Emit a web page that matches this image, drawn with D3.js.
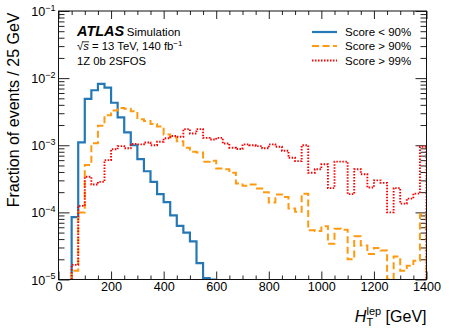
<!DOCTYPE html>
<html>
<head>
<meta charset="utf-8">
<script src="https://d3js.org/d3.v7.min.js"></script>
<style>
  body { margin: 0; background: #fff; }
  text { font-family: "Liberation Sans", Arial, Helvetica, sans-serif; fill: #000; }
</style>
</head>
<body>
<div id="chart"></div>
<script>
    // histogram bins: 25 GeV wide, first bin starts at 50 GeV
    var binStart = 50, binWidth = 25;

    // Score < 90%  (50 .. 600 GeV)
    var scoreBelow90 = [8.5e-5, 1.1e-3, 4.9e-3, 6.6e-3, 8.2e-3, 7.2e-3, 4.3e-3, 2.6e-3, 1.55e-3, 1.0e-3,
        6.2e-4, 4.1e-4, 2.85e-4, 1.87e-4, 1.42e-4, 9.0e-5, 6.3e-5, 5.0e-5, 3.7e-5, 1.75e-5,
        1.05e-5, 1.0e-5];

    // Score > 90%  (50 .. 1400 GeV)
    var scoreAbove90 = [1.35e-5, 1.0e-4, 5.1e-4, 1.07e-3, 1.95e-3, 2.8e-3, 3.3e-3, 3.6e-3, 3.5e-3, 3.2e-3,
        2.45e-3, 2.3e-3, 2.07e-3, 1.9e-3, 1.45e-3, 1.3e-3, 1.15e-3, 9.2e-4, 8.0e-4, 7.8e-4,
        5.7e-4, 5.9e-4, 4.5e-4, 4.4e-4, 3.9e-4, 2.7e-4, 2.5e-4, 2.6e-4, 2.26e-4, 2.0e-4,
        1.4e-4, 1.85e-4, 1.7e-4, 1.14e-4, 1.02e-4, 1.9e-4, 5.4e-5, 5.3e-5, 6.2e-5, 3.4e-5,
        5.7e-5, 5.5e-5, 2.0e-5, 4.4e-5, 3.2e-5, 2.4e-5, 2.95e-5, 2.7e-5, 5e-6, 2.2e-5,
        1.35e-5, 1.6e-5, 1.9e-5, 9.4e-5];

    // Score > 99%  (50 .. 1400 GeV)
    var scoreAbove99 = [1.65e-5, 1.25e-4, 3.4e-4, 2.6e-4, 2.85e-4, 6.0e-4, 8.7e-4, 9.7e-4, 9.0e-4, 1.05e-3,
        1.03e-3, 1.1e-3, 1.0e-3, 1.13e-3, 1.27e-3, 1.37e-3, 1.34e-3, 1.74e-3, 1.5e-3, 1.74e-3,
        1.29e-3, 1.22e-3, 1.29e-3, 1.06e-3, 9.2e-4, 8.8e-4, 1.03e-3, 1.0e-3, 9.7e-4, 9.0e-4,
        1.03e-3, 9.5e-4, 8.3e-4, 6.5e-4, 5.8e-4, 1.0e-3, 3.9e-4, 4.4e-4, 5.2e-4, 2.3e-4,
        5.7e-4, 5.7e-4, 1.87e-4, 4.4e-4, 3.7e-4, 2.35e-4, 3.0e-4, 2.75e-4, 1.0e-4, 2.3e-4,
        1.35e-4, 1.6e-4, 1.9e-4, 9.5e-4];

    var xTicks = [0, 200, 400, 600, 800, 1000, 1200, 1400];
    var yExponents = [-1, -2, -3, -4, -5];
    var legendLabels = ["Score < 90%", "Score > 90%", "Score > 99%"];

    var width = 449, height = 331;
    var pLeft = 58.5, pRight = 426.5, pTop = 11, pBottom = 279.5;

    var x = d3.scaleLinear().domain([0, 1400]).range([pLeft, pRight]);
    var y = d3.scaleLog().domain([1e-5, 1e-1]).range([pBottom, pTop]).clamp(true);

    var svg = d3.select("#chart").append("svg")
        .attr("width", width)
        .attr("height", height);

    svg.append("clipPath").attr("id", "plotclip")
        .append("rect")
        .attr("x", pLeft).attr("y", pTop)
        .attr("width", pRight - pLeft).attr("height", pBottom - pTop);

    // minor tick values
    var xMinor = d3.range(0, 1401, 50).filter(function (d) { return d % 200 !== 0; });
    var yMinor = [];
    yExponents.slice(1).forEach(function (e) {
        for (var k = 2; k <= 9; k++) yMinor.push(k * Math.pow(10, e));
    });
    var yMajor = yExponents.map(function (e) { return Math.pow(10, e); });

    function tickAxis(axis, tr) {
        var g = svg.append("g")
            .attr("transform", tr)
            .style("color", "#222")
            .call(axis);
        g.select(".domain").remove();
        g.selectAll("line").attr("stroke-width", 1);
        return g;
    }

    // ticks on all four sides, pointing inwards
    var gx = tickAxis(d3.axisBottom(x).tickValues(xTicks).tickSize(-8).tickSizeOuter(0).tickPadding(3)
        .tickFormat(d3.format("d")), "translate(0," + pBottom + ")");
    gx.selectAll("text").attr("font-size", 12.6).attr("font-family", "Liberation Sans, Arial, sans-serif").style("fill", "#000");
    tickAxis(d3.axisBottom(x).tickValues(xMinor).tickSize(-4).tickSizeOuter(0).tickFormat(""), "translate(0," + pBottom + ")");
    tickAxis(d3.axisTop(x).tickValues(xTicks).tickSize(-8).tickSizeOuter(0).tickFormat(""), "translate(0," + pTop + ")");
    tickAxis(d3.axisTop(x).tickValues(xMinor).tickSize(-4).tickSizeOuter(0).tickFormat(""), "translate(0," + pTop + ")");
    tickAxis(d3.axisLeft(y).tickValues(yMajor).tickSize(-11).tickSizeOuter(0).tickFormat(""), "translate(" + pLeft + ",0)");
    tickAxis(d3.axisLeft(y).tickValues(yMinor).tickSize(-6).tickSizeOuter(0).tickFormat(""), "translate(" + pLeft + ",0)");
    tickAxis(d3.axisRight(y).tickValues(yMajor).tickSize(-11).tickSizeOuter(0).tickFormat(""), "translate(" + pRight + ",0)");
    tickAxis(d3.axisRight(y).tickValues(yMinor).tickSize(-6).tickSizeOuter(0).tickFormat(""), "translate(" + pRight + ",0)");

    // y tick labels 10^n
    var ylab = svg.append("g").selectAll("text")
        .data(yExponents)
        .enter().append("text")
        .attr("x", 55.5)
        .attr("y", function (e) { return y(Math.pow(10, e)) + 5; })
        .attr("text-anchor", "end")
        .attr("font-size", 12.6);
    ylab.append("tspan").text("10");
    ylab.append("tspan")
        .attr("font-size", 9)
        .attr("dy", -5.5)
        .text(function (e) { return "\u2212" + Math.abs(e); });

    // histograms as steps
    function stepPoints(vals) {
        var pts = [{ e: binStart, v: 1e-9 }];
        vals.forEach(function (v, i) { pts.push({ e: binStart + i * binWidth, v: v }); });
        var end = binStart + vals.length * binWidth;
        pts.push({ e: end, v: vals[vals.length - 1] });
        pts.push({ e: end, v: 1e-9 });
        return pts;
    }
    var line = d3.line()
        .x(function (d) { return x(d.e); })
        .y(function (d) { return y(d.v); })
        .curve(d3.curveStepAfter);

    var series = [
        { vals: scoreBelow90, color: "#2378b5", w: 2.2, dash: null },
        { vals: scoreAbove90, color: "#ff9a10", w: 2, dash: "7,3.5" },
        { vals: scoreAbove99, color: "#ff0000", w: 1.9, dash: "1.5,1.5" }
    ];

    var plot = svg.append("g").attr("clip-path", "url(#plotclip)");
    plot.selectAll("path.hist")
        .data(series)
        .enter().append("path")
        .attr("class", "hist")
        .attr("d", function (s) { return line(stepPoints(s.vals)); })
        .attr("fill", "none")
        .attr("stroke", function (s) { return s.color; })
        .attr("stroke-width", function (s) { return s.w; })
        .attr("stroke-dasharray", function (s) { return s.dash; });

    // frame
    svg.append("rect")
        .attr("x", pLeft).attr("y", pTop)
        .attr("width", pRight - pLeft).attr("height", pBottom - pTop)
        .attr("fill", "none")
        .attr("stroke", "#111")
        .attr("stroke-width", 1);

    // legend
    var leg = svg.append("g").selectAll("g")
        .data(series)
        .enter().append("g")
        .attr("transform", function (s, i) { return "translate(0," + [32, 46, 60.5][i] + ")"; });
    leg.append("line")
        .attr("x1", 312).attr("x2", 337)
        .attr("stroke", function (s) { return s.color; })
        .attr("stroke-width", function (s) { return s.w; })
        .attr("stroke-dasharray", function (s) { return s.dash; });
    leg.append("text")
        .attr("x", 345).attr("y", 4.2)
        .attr("font-size", 11.5)
        .text(function (s, i) { return legendLabels[i]; });

    // ATLAS label block
    var atl = svg.append("text").attr("x", 77).attr("y", 35.5);
    atl.append("tspan").attr("font-size", 14.5).attr("font-weight", "bold").attr("font-style", "italic").text("ATLAS");
    atl.append("tspan").attr("font-size", 11.5).attr("dx", 2.5).text("Simulation");

    var sq = svg.append("text").attr("x", 77).attr("y", 50).attr("font-size", 11.3);
    sq.append("tspan").text("\u221A");
    sq.append("tspan").attr("font-style", "italic").text("s");
    sq.append("tspan").text(" = 13 TeV, 140 fb");
    sq.append("tspan").attr("font-size", 8).attr("dy", -4.5).text("\u22121");
    // overline of the square root
    var r0 = sq.node().getExtentOfChar(0), r1 = sq.node().getExtentOfChar(1);
    svg.append("line")
        .attr("x1", r0.x + r0.width - 0.6).attr("x2", r1.x + r1.width + 0.3)
        .attr("y1", r0.y + 1.8).attr("y2", r0.y + 1.8)
        .attr("stroke", "#000").attr("stroke-width", 0.8);

    svg.append("text").attr("x", 77).attr("y", 64.5).attr("font-size", 11.3).text("1Z 0b 2SFOS");

    // axis titles
    svg.append("text")
        .attr("transform", "translate(18.5,12.5) rotate(-90)")
        .attr("text-anchor", "end")
        .attr("font-size", 16)
        .text("Fraction of events / 25 GeV");

    var xt = svg.append("text")
        .attr("x", pRight).attr("y", 322)
        .attr("text-anchor", "end")
        .attr("font-size", 16);
    xt.append("tspan").attr("font-style", "italic").text("H");
    xt.append("tspan").attr("font-size", 11).attr("dy", 3.5).text("T");
    xt.append("tspan").attr("font-size", 11).attr("dx", -6.7).attr("dy", -11).text("lep");
    xt.append("tspan").attr("dy", 7.5).text(" [GeV]");
</script>
</body>
</html>
